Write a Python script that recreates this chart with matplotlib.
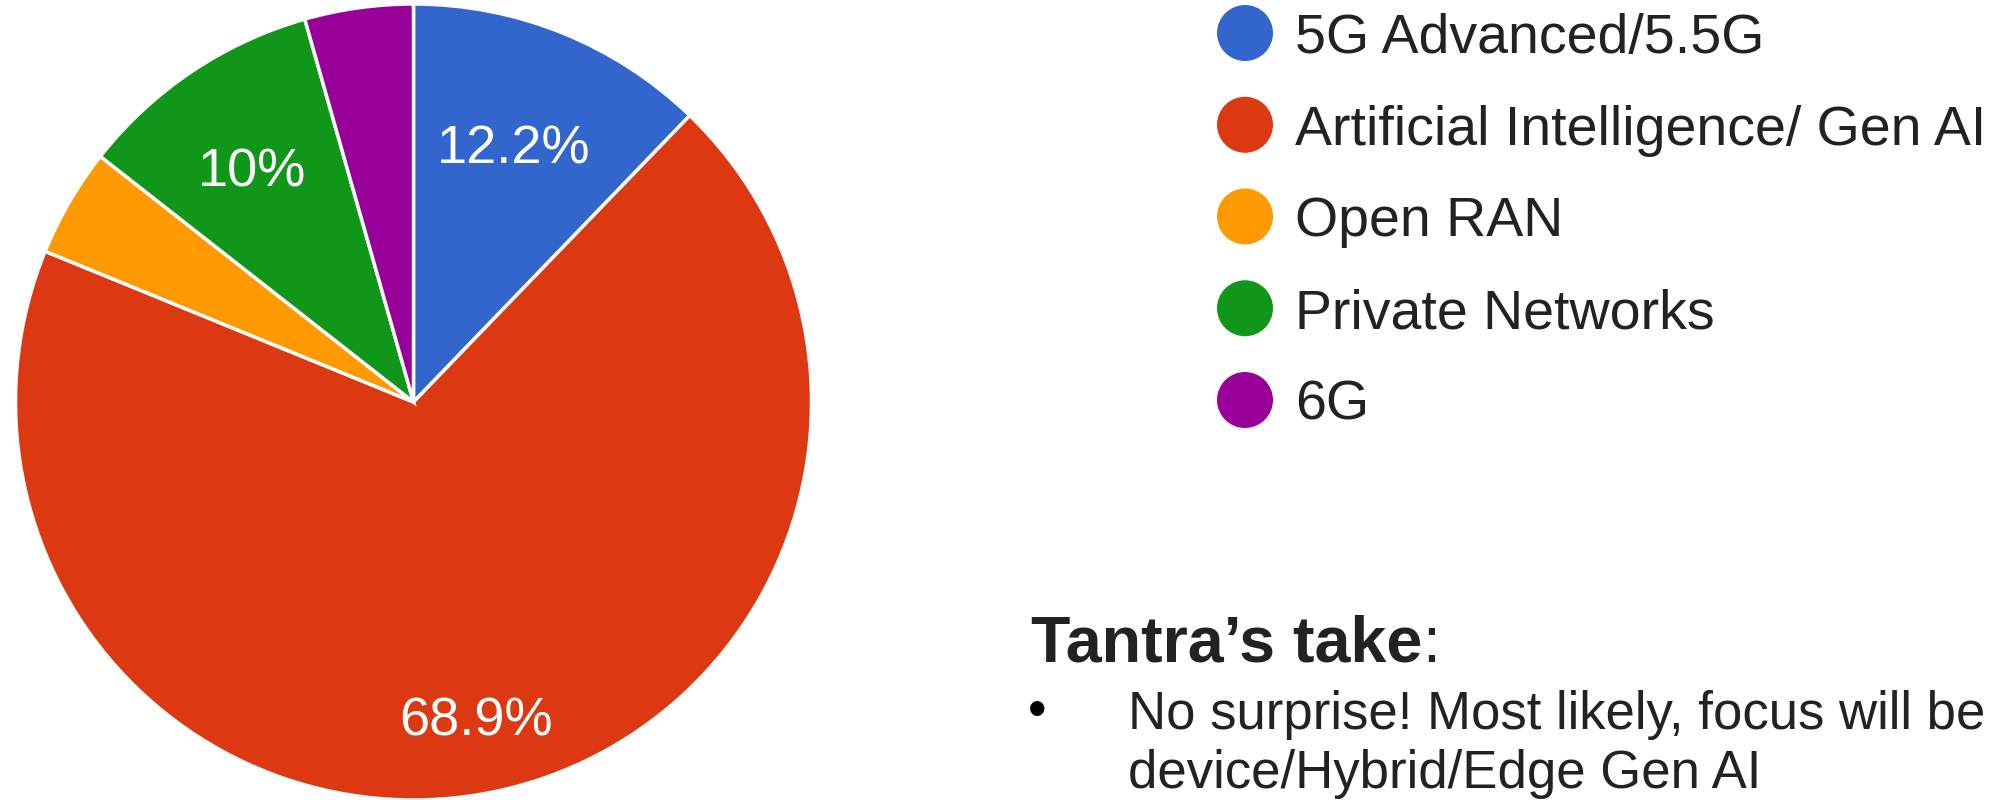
import numpy as np
import matplotlib
matplotlib.use("Agg")
import matplotlib.pyplot as plt

plt.rcParams['font.family'] = ['Liberation Sans', 'DejaVu Sans']

# Data (share of responses, %)
categories = ["5G Advanced/5.5G", "Artificial Intelligence/ Gen AI", "Open RAN",
              "Private Networks", "6G"]
shares = [12.2, 68.9, 4.4, 10.0, 4.4]
colors = ["#3366cc", "#dc3912", "#ff9900", "#109618", "#990099"]

# how far out (fraction of radius) each percentage label sits
label_dist = [0.70, 0.805, 0.70, 0.71, 0.70]

title_text = "Tantra\u2019s take"
bullet_lines = ["No surprise! Most likely, focus will be",
                "device/Hybrid/Edge Gen AI"]

W, H = 1998, 800
fig = plt.figure(figsize=(W / 100, H / 100), dpi=100)

# Pie - centre at (413.5, 402) px, radius ~397 px
cx, cy, r = 413.5, 402, 398
ax = fig.add_axes([(cx - r) / W, (H - cy - r) / H, 2 * r / W, 2 * r / H])
wedges, _ = ax.pie(shares, colors=colors, startangle=90, counterclock=False,
                   radius=1.0, wedgeprops=dict(edgecolor="white", linewidth=2.5))
ax.set_xlim(-1, 1)
ax.set_ylim(-1, 1)
ax.axis("off")

# percentage labels, Google-style (small slices unlabeled)
for w, v, d in zip(wedges, shares, label_dist):
    if v < 5:
        continue
    ang = np.deg2rad((w.theta1 + w.theta2) / 2)
    ax.text(d * np.cos(ang) - 0.01, d * np.sin(ang), f"{v:g}%", color="white",
            fontsize=39, ha="center", va="center_baseline")

# Overlay in pixel coordinates for legend and notes
ov = fig.add_axes([0, 0, 1, 1])
ov.set_xlim(0, W)
ov.set_ylim(H, 0)
ov.axis("off")

leg_x, leg_y0, leg_step = 1245, 33, 91.75
for i, (name, c) in enumerate(zip(categories, colors)):
    y = leg_y0 + i * leg_step
    ov.scatter([leg_x], [y], s=1625, color=c, edgecolors="none")
    ov.text(leg_x + 50, y + 20, name, fontsize=40, color="#222222",
            ha="left", va="baseline")

t1 = ov.text(1031, 662, title_text, fontsize=46.5, fontweight="bold",
             color="#222222", ha="left", va="baseline")
ov.annotate(":", xy=(1, 0), xycoords=t1, fontsize=46.5, color="#222222",
            ha="left", va="bottom")

ov.text(1037, 713, "\u2022", fontsize=38, color="black", ha="center", va="center")
ov.text(1128, 729, bullet_lines[0], fontsize=38, color="#222222",
        ha="left", va="baseline")
ov.text(1128, 788, bullet_lines[1], fontsize=38, color="#222222",
        ha="left", va="baseline")

fig.savefig("out.png", dpi=100, facecolor="white")
